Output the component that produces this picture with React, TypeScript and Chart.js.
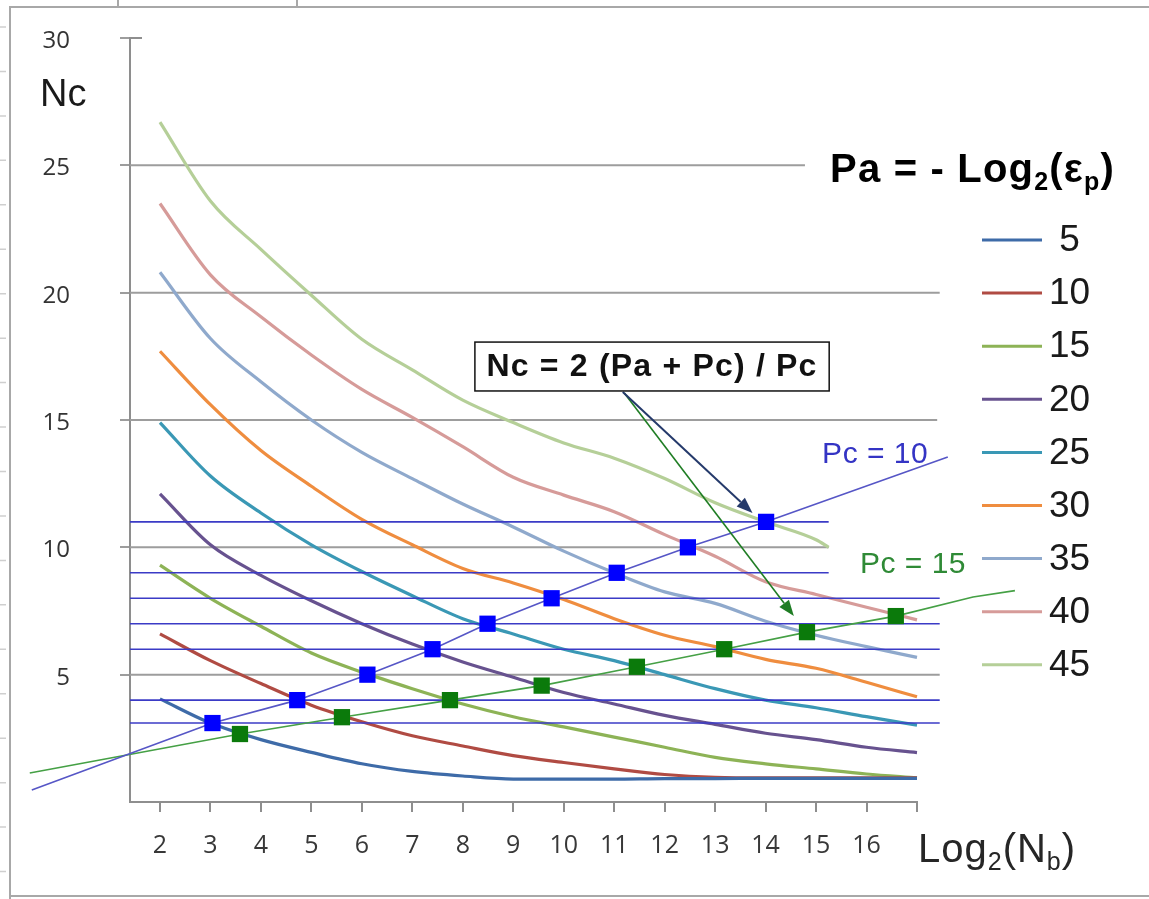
import React, { useEffect, useRef } from 'react';
import { Chart, registerables } from 'chart.js';

Chart.register(...registerables);

// ---------- axes ----------
const X_MIN = 1.406;
const X_MAX = 17;
const Y_MIN = 0;
const Y_MAX = 30;
const xTickValues = [2, 3, 4, 5, 6, 7, 8, 9, 10, 11, 12, 13, 14, 15, 16, 17];
const xTickLabels = ['2', '3', '4', '5', '6', '7', '8', '9', '10', '11', '12', '13', '14', '15', '16', ''];
const yTickValues = [0, 5, 10, 15, 20, 25, 30];
const yTickLabels = ['', '5', '10', '15', '20', '25', '30'];

// ---------- curves: Nc vs Log2(Nb) for each Pa ----------
const paLabels = [' 5', '10', '15', '20', '25', '30', '35', '40', '45'];
const paColors = ['#3e6ba8', '#b04b43', '#8db356', '#67528f', '#3a98b5', '#ef8d3f', '#8fa9cc', '#d69b99', '#b5cf98'];
const curveX = [2, 3, 4, 5, 6, 7, 8, 9, 10, 11, 12, 13, 14, 15, 16, 17];
const nc5 = [4.05, 3.1, 2.45, 1.95, 1.5, 1.2, 1.02, 0.9, 0.9, 0.9, 0.92, 0.92, 0.93, 0.93, 0.93, 0.93];
const nc10 = [6.6, 5.55, 4.65, 3.8, 3.15, 2.6, 2.2, 1.82, 1.55, 1.3, 1.08, 0.97, 0.95, 0.95, 0.95, 0.95];
const nc15 = [9.3, 8.0, 6.9, 5.85, 5.1, 4.45, 3.85, 3.35, 2.95, 2.55, 2.15, 1.75, 1.5, 1.3, 1.1, 0.95];
const nc20 = [12.1, 10.1, 8.9, 7.9, 7.0, 6.2, 5.5, 4.9, 4.3, 3.85, 3.4, 3.05, 2.7, 2.45, 2.15, 1.94];
const nc25 = [14.9, 12.8, 11.35, 10.1, 9.05, 8.1, 7.2, 6.6, 6.0, 5.55, 5.0, 4.45, 4.0, 3.7, 3.35, 3.02];
const nc30 = [17.7, 15.6, 13.8, 12.4, 11.1, 10.1, 9.17, 8.6, 7.95, 7.2, 6.55, 6.1, 5.6, 5.25, 4.7, 4.13];
const nc35 = [20.8, 18.2, 16.5, 15.0, 13.73, 12.7, 11.7, 10.8, 9.85, 9.0, 8.25, 7.8, 7.1, 6.55, 6.1, 5.68];
const nc40 = [23.5, 20.7, 19.05, 17.55, 16.2, 15.1, 13.95, 12.75, 12.05, 11.4, 10.5, 9.65, 8.65, 8.15, 7.65, 7.15];
const curve45X = [2, 3, 4, 5, 6, 7, 8, 9, 10, 11, 12, 13, 14, 15, 15.25];
const nc45 = [26.7, 23.6, 21.7, 19.9, 18.17, 16.97, 15.78, 14.9, 14.1, 13.5, 12.7, 11.75, 11.0, 10.3, 10.0];

// ---------- Pc lines with square markers ----------
const pc10X = [-0.54, 3.04, 4.72, 6.11, 7.4, 8.49, 9.76, 11.05, 12.46, 14.01, 17.61];
const pc10Y = [0.47, 3.1, 4, 5, 6, 7, 8, 9, 10, 11, 13.55];
const pc15X = [-0.58, 3.585, 5.606, 7.746, 9.563, 11.45, 13.18, 14.82, 16.58, 18.11, 18.94];
const pc15Y = [1.14, 2.67, 3.33, 4.0, 4.57, 5.31, 6.0, 6.67, 7.3, 8.05, 8.3];

// ---------- horizontal guide lines ----------
const levelY = [3.1, 4, 6, 7, 8, 9, 11];
const levelEndX = [17.45, 17.45, 17.45, 17.45, 17.45, 15.25, 15.25];
const gridY = [5, 10, 15, 20, 25];
const gridEndX = [17.45, 15.25, 17.4, 17.45, 14.78];

// ---------- annotations (data units) ----------
const formulaText = 'Nc = 2 (Pa + Pc) / Pc';
const formulaBox = { left: 8.24, right: 15.26, top: 18.06, bottom: 16.14 };
const arrowBlue = { x0: 11.17, y0: 16.1, x1: 13.74, y1: 11.35 };
const arrowGreen = { x0: 11.2, y0: 16.06, x1: 14.56, y1: 7.3 };
const pc10Label = { text: 'Pc = 10', x: 15.12, y: 13.33 };
const pc15Label = { text: 'Pc = 15', x: 15.87, y: 8.98 };

const SANS = '"Liberation Sans", Arial, sans-serif';
const TICK_FONT = '"Open Sans", "Noto Sans", sans-serif';

type Part = { t: string; sub?: boolean };

function drawRich(ctx: CanvasRenderingContext2D, parts: Part[], x: number, y: number, size: number, weight: string, color: string, spacing = 0) {
  let cx = x;
  ctx.save();
  ctx.fillStyle = color;
  ctx.textAlign = 'left';
  ctx.textBaseline = 'alphabetic';
  (ctx as any).letterSpacing = `${spacing}px`;
  for (const p of parts) {
    const s = p.sub ? Math.round(size * 0.62) : size;
    ctx.font = `${weight} ${s}px ${SANS}`;
    ctx.fillText(p.t, cx, p.sub ? y + size * 0.2 : y);
    cx += ctx.measureText(p.t).width;
  }
  ctx.restore();
}

function drawArrow(ctx: CanvasRenderingContext2D, x0: number, y0: number, x1: number, y1: number, color: string, width: number) {
  const ang = Math.atan2(y1 - y0, x1 - x0);
  const headLen = 16;
  const headW = 6;
  const bx = x1 - headLen * Math.cos(ang);
  const by = y1 - headLen * Math.sin(ang);
  ctx.save();
  ctx.strokeStyle = color;
  ctx.fillStyle = color;
  ctx.lineWidth = width;
  ctx.beginPath();
  ctx.moveTo(x0, y0);
  ctx.lineTo(bx, by);
  ctx.stroke();
  ctx.beginPath();
  ctx.moveTo(x1, y1);
  ctx.lineTo(bx + headW * Math.sin(ang), by - headW * Math.cos(ang));
  ctx.lineTo(bx - headW * Math.sin(ang), by + headW * Math.cos(ang));
  ctx.closePath();
  ctx.fill();
  ctx.restore();
}

const overlayPlugin = {
  id: 'overlay',
  beforeDraw(chart: any) {
    const ctx: CanvasRenderingContext2D = chart.ctx;
    const w = chart.width;
    const h = chart.height;
    ctx.save();
    ctx.fillStyle = '#ffffff';
    ctx.fillRect(0, 0, w, h);
    // sheet frame around the picture
    ctx.strokeStyle = '#a8a8a8';
    ctx.lineWidth = 2;
    ctx.beginPath();
    ctx.moveTo(w, 7);
    ctx.lineTo(10, 7);
    ctx.lineTo(10, h);
    ctx.moveTo(10, 896);
    ctx.lineTo(w, 896);
    ctx.moveTo(118, 0);
    ctx.lineTo(118, 7);
    ctx.moveTo(297, 0);
    ctx.lineTo(297, 7);
    ctx.stroke();
    // faint row marks at the left edge
    ctx.strokeStyle = '#cfcfcf';
    ctx.lineWidth = 1.5;
    ctx.beginPath();
    for (let y = 27; y < h; y += 44.45) {
      ctx.moveTo(0, y);
      ctx.lineTo(6, y);
    }
    ctx.stroke();
    ctx.restore();
  },
  afterDatasetsDraw(chart: any) {
    const ctx: CanvasRenderingContext2D = chart.ctx;
    const xs = chart.scales.x;
    const ys = chart.scales.y;
    const px = (v: number) => xs.getPixelForValue(v);
    const py = (v: number) => ys.getPixelForValue(v);

    // top cross tick on the value axis
    ctx.save();
    ctx.strokeStyle = '#8e8e8e';
    ctx.lineWidth = 2;
    ctx.beginPath();
    ctx.moveTo(xs.left, py(Y_MAX));
    ctx.lineTo(xs.left + 12, py(Y_MAX));
    ctx.stroke();
    ctx.restore();

    // arrows
    drawArrow(ctx, px(arrowGreen.x0), py(arrowGreen.y0), px(arrowGreen.x1), py(arrowGreen.y1), '#1f7d24', 1.6);
    drawArrow(ctx, px(arrowBlue.x0), py(arrowBlue.y0), px(arrowBlue.x1), py(arrowBlue.y1), '#253a6b', 2);

    // formula box
    const l = px(formulaBox.left), r = px(formulaBox.right);
    const t = py(formulaBox.top), b = py(formulaBox.bottom);
    ctx.save();
    ctx.fillStyle = '#ffffff';
    ctx.fillRect(l, t, r - l, b - t);
    ctx.strokeStyle = '#111111';
    ctx.lineWidth = 1.5;
    ctx.strokeRect(l, t, r - l, b - t);
    ctx.fillStyle = '#111111';
    ctx.font = `bold 32px ${SANS}`;
    (ctx as any).letterSpacing = '1.2px';
    ctx.textAlign = 'center';
    ctx.textBaseline = 'middle';
    ctx.fillText(formulaText, (l + r) / 2, (t + b) / 2 + 1);
    ctx.restore();

    // Pc labels
    ctx.save();
    ctx.font = `30px ${SANS}`;
    (ctx as any).letterSpacing = '0.5px';
    ctx.textAlign = 'left';
    ctx.textBaseline = 'alphabetic';
    ctx.fillStyle = '#3434c4';
    ctx.fillText(pc10Label.text, px(pc10Label.x), py(pc10Label.y));
    ctx.fillStyle = '#2f8a36';
    ctx.fillText(pc15Label.text, px(pc15Label.x), py(pc15Label.y));
    ctx.restore();
  },
  afterDraw(chart: any) {
    const ctx: CanvasRenderingContext2D = chart.ctx;
    // axis titles
    drawRich(ctx, [{ t: 'Nc' }], 40, 106, 38, 'normal', '#1a1a1a');
    drawRich(ctx, [{ t: 'Log' }, { t: '2', sub: true }, { t: '(N' }, { t: 'b', sub: true }, { t: ')' }], 918, 862, 40, 'normal', '#262626', 1);
    // legend title
    drawRich(ctx, [{ t: 'Pa = - Log' }, { t: '2', sub: true }, { t: '(\u03b5' }, { t: 'p', sub: true }, { t: ')' }], 830, 182, 40, 'bold', '#000000', 1.2);
    // legend entries
    ctx.save();
    paLabels.forEach((lab, i) => {
      const yc = 240 + i * 53.1;
      ctx.strokeStyle = paColors[i];
      ctx.lineWidth = 3;
      ctx.beginPath();
      ctx.moveTo(982, yc);
      ctx.lineTo(1042, yc);
      ctx.stroke();
      ctx.fillStyle = '#1a1a1a';
      ctx.font = `37px ${SANS}`;
      ctx.textAlign = 'left';
      ctx.textBaseline = 'middle';
      ctx.fillText(lab, 1049, yc + 1);
    });
    ctx.restore();
  },
};

export default function App() {
  const canvasRef = useRef<HTMLCanvasElement>(null);

  useEffect(() => {
    const canvas = canvasRef.current;
    if (!canvas) return;

    const curves = [nc5, nc10, nc15, nc20, nc25, nc30, nc35, nc40];
    const datasets: any[] = [];

    datasets.push({
      label: 'Pc = 10',
      data: pc10X.map((x, i) => ({ x, y: pc10Y[i] })),
      borderColor: '#5656c6',
      borderWidth: 1.6,
      pointStyle: 'rect',
      pointRadius: pc10X.map((_, i) => (i === 0 || i === pc10X.length - 1 ? 0 : 11.5)),
      pointBackgroundColor: '#0000ff',
      pointBorderWidth: 0,
      tension: 0,
      clip: false,
      order: 0,
    });
    datasets.push({
      label: 'Pc = 15',
      data: pc15X.map((x, i) => ({ x, y: pc15Y[i] })),
      borderColor: '#45a045',
      borderWidth: 1.6,
      pointStyle: 'rect',
      pointRadius: pc15X.map((_, i) => (i === 0 || i === pc15X.length - 1 ? 0 : 11.5)),
      pointBackgroundColor: '#0b7a0b',
      pointBorderWidth: 0,
      tension: 0,
      clip: false,
      order: 0,
    });

    levelY.forEach((y, i) => {
      datasets.push({
        label: `level ${y}`,
        data: [{ x: X_MIN, y }, { x: levelEndX[i], y }],
        borderColor: '#3b3bc6',
        borderWidth: 1.6,
        pointRadius: 0,
        clip: false,
        order: 1,
      });
    });

    curves.forEach((arr, i) => {
      datasets.push({
        label: paLabels[i],
        data: curveX.map((x, j) => ({ x, y: arr[j] })),
        borderColor: paColors[i],
        borderWidth: 3.2,
        pointRadius: 0,
        cubicInterpolationMode: 'monotone',
        clip: false,
        order: 2,
      });
    });
    datasets.push({
      label: paLabels[8],
      data: curve45X.map((x, j) => ({ x, y: nc45[j] })),
      borderColor: paColors[8],
      borderWidth: 3.2,
      pointRadius: 0,
      cubicInterpolationMode: 'monotone',
      clip: false,
      order: 2,
    });

    gridY.forEach((y, i) => {
      datasets.push({
        label: `grid ${y}`,
        data: [{ x: X_MIN, y }, { x: gridEndX[i], y }],
        borderColor: '#9d9d9d',
        borderWidth: 2,
        pointRadius: 0,
        clip: false,
        order: 3,
      });
    });

    const chart = new Chart(canvas, {
      type: 'line',
      data: { datasets },
      plugins: [overlayPlugin],
      options: {
        animation: false,
        responsive: false,
        devicePixelRatio: 1,
        layout: { padding: { top: 38, right: 232, left: 0, bottom: 0 } },
        plugins: {
          legend: { display: false },
          tooltip: { enabled: false },
          title: { display: false },
        },
        scales: {
          x: {
            type: 'linear',
            bounds: 'data',
            afterDataLimits: (s: any) => {
              s.min = X_MIN;
              s.max = X_MAX;
            },
            afterBuildTicks: (s: any) => {
              s.ticks = xTickValues.map((v) => ({ value: v }));
            },
            afterFit: (s: any) => {
              s.height = 97;
              s.paddingLeft = 0;
              s.paddingRight = 0;
            },
            grid: {
              drawOnChartArea: false,
              drawTicks: true,
              tickLength: 10,
              color: '#8e8e8e',
              lineWidth: 2,
            },
            border: { display: true, color: '#8e8e8e', width: 2 },
            ticks: {
              autoSkip: false,
              maxRotation: 0,
              padding: 19,
              color: '#383838',
              font: { family: TICK_FONT, size: 25 },
              callback: (value: any) => {
                const idx = xTickValues.indexOf(Number(value));
                return idx >= 0 ? xTickLabels[idx] : '';
              },
            },
          },
          y: {
            type: 'linear',
            bounds: 'data',
            afterDataLimits: (s: any) => {
              s.min = Y_MIN;
              s.max = Y_MAX;
            },
            afterBuildTicks: (s: any) => {
              s.ticks = yTickValues.map((v) => ({ value: v }));
            },
            afterFit: (s: any) => {
              s.width = 130;
              s.paddingTop = 0;
              s.paddingBottom = 0;
            },
            grid: {
              drawOnChartArea: false,
              drawTicks: true,
              tickLength: 10,
              lineWidth: 2,
              color: (c: any) => (c.tick && c.tick.value === 0 ? 'rgba(0,0,0,0)' : '#9d9d9d'),
            },
            border: { display: true, color: '#8e8e8e', width: 2 },
            ticks: {
              padding: 50,
              labelOffset: 3,
              color: '#333333',
              font: { family: TICK_FONT, size: 24 },
              callback: (value: any) => {
                const idx = yTickValues.indexOf(Number(value));
                return idx >= 0 ? yTickLabels[idx] : '';
              },
            },
          },
        },
      },
    } as any);

    return () => chart.destroy();
  }, []);

  return (
    <div style={{ position: 'absolute', left: 0, top: 0, width: 1149, height: 899, background: '#fff' }}>
      <canvas ref={canvasRef} width={1149} height={899} style={{ display: 'block', width: 1149, height: 899 }} />
    </div>
  );
}
